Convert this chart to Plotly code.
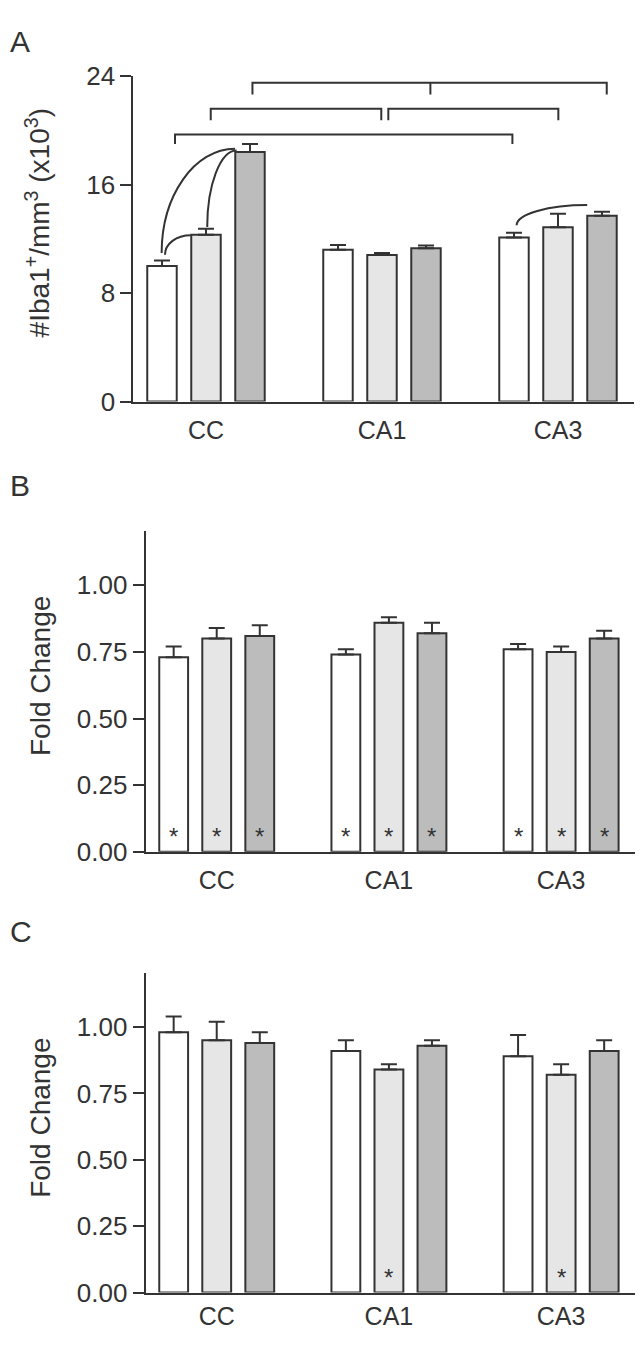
import plotly.graph_objects as go

# ---------------- data ----------------
categories = ["CC", "CA1", "CA3"]

# Panel A: #Iba1+/mm3 (x10^3)
a_white = [10.0, 11.2, 12.1]
a_white_err = [0.4, 0.35, 0.35]
a_light = [12.3, 10.8, 12.85]
a_light_err = [0.45, 0.15, 1.0]
a_dark = [18.4, 11.3, 13.7]
a_dark_err = [0.6, 0.2, 0.3]

# Panel B: fold change
b_white = [0.73, 0.74, 0.76]
b_white_err = [0.04, 0.02, 0.02]
b_light = [0.80, 0.86, 0.75]
b_light_err = [0.04, 0.02, 0.02]
b_dark = [0.81, 0.82, 0.80]
b_dark_err = [0.04, 0.04, 0.03]

# Panel C: fold change
c_white = [0.98, 0.91, 0.89]
c_white_err = [0.06, 0.04, 0.08]
c_light = [0.95, 0.84, 0.82]
c_light_err = [0.07, 0.02, 0.04]
c_dark = [0.94, 0.93, 0.91]
c_dark_err = [0.04, 0.02, 0.04]

a_ticks = [0, 8, 16, 24]
fc_ticks = [0.0, 0.25, 0.5, 0.75, 1.0]
fc_ticktext = ["0.00", "0.25", "0.50", "0.75", "1.00"]

# significance asterisks: (group index, series index)
b_stars = [(g, s) for g in range(3) for s in range(3)]
c_stars = [(1, 1), (2, 1)]

# ---------------- style ----------------
PAGE_W, PAGE_H = 643, 1351
BODY = 8                     # default html body margin
W, H = PAGE_W - 2 * BODY, PAGE_H - 2 * BODY
FONT = "Liberation Sans, Arial, Helvetica, sans-serif"
INK = "#333333"
FILLS = ["#ffffff", "#e6e6e6", "#bcbcbc"]
STEP = 0.25          # distance between bar centres inside a group


def fx(px):
    return min(1.0, max(0.0, (px - BODY) / W))


def fy(px):
    return min(1.0, max(0.0, 1 - (px - BODY) / H))


fig = go.Figure()


def add_panel(values, errs, xa, ya):
    for s, (v, e) in enumerate(zip(values, errs)):
        fig.add_trace(go.Bar(
            x=list(range(len(categories))), y=v,
            marker=dict(color=FILLS[s], line=dict(color=INK, width=2)),
            error_y=dict(type="data", array=e, arrayminus=[0] * len(e),
                         symmetric=False, color=INK, thickness=2, width=8),
            xaxis=xa, yaxis=ya, showlegend=False, hoverinfo="skip",
        ))


add_panel([a_white, a_light, a_dark], [a_white_err, a_light_err, a_dark_err], "x", "y")
add_panel([b_white, b_light, b_dark], [b_white_err, b_light_err, b_dark_err], "x2", "y2")
add_panel([c_white, c_light, c_dark], [c_white_err, c_light_err, c_dark_err], "x3", "y3")

axis_common = dict(showgrid=False, zeroline=False, showline=True,
                   linecolor=INK, linewidth=2, color=INK)


def xaxis(left, right, anchor, tl, scale):
    # axis range chosen so that category 0 sits at left + 0.413*scale
    lo = -0.413
    hi = lo + (min(right, BODY + W) - left) / scale
    d = dict(axis_common, range=[lo, hi], tickvals=[0, 1, 2], ticktext=categories,
             tickfont=dict(family=FONT, size=25, color=INK),
             domain=[fx(left), fx(right)], anchor=anchor)
    if tl > 0:
        d.update(ticks="outside", tickcolor="rgba(0,0,0,0)", ticklen=tl)
    else:
        d.update(ticks="")
    return d


ycommon = dict(axis_common, ticks="outside", ticklen=11, tickwidth=2, tickcolor=INK,
               tickfont=dict(family=FONT, size=26, color=INK))

fig.update_layout(
    width=W, height=H,
    margin=dict(l=0, r=0, t=0, b=0),
    paper_bgcolor="white", plot_bgcolor="white",
    barmode="group", bargap=0.25, bargroupgap=0.33,
    font=dict(family=FONT, color=INK),
    xaxis=xaxis(133.3, 633.6, "y", 5, 176.0),
    yaxis=dict(ycommon, domain=[fy(395.3), fy(62.3)], anchor="x",
               range=[0, 24], tickvals=a_ticks),
    xaxis2=xaxis(145.6, 635.6, "y2", 5, 172.2),
    yaxis2=dict(ycommon, domain=[fy(855.7), fy(528)], anchor="x2",
                range=[0, 1.203], tickvals=fc_ticks, ticktext=fc_ticktext),
    xaxis3=xaxis(145.6, 635.6, "y3", 0, 172.2),
    yaxis3=dict(ycommon, domain=[fy(1306.7), fy(980)], anchor="x3",
                range=[0, 1.203], tickvals=fc_ticks, ticktext=fc_ticktext),
)

# ---------------- annotations ----------------
ann = []
# panel letters
for letter, py in [("A", 8), ("B", 462), ("C", 918)]:
    ann.append(dict(text=letter, x=0, y=fy(py), xref="paper", yref="paper",
                    xanchor="left", yanchor="top", showarrow=False,
                    font=dict(family=FONT, size=30, color=INK)))
# y titles
ann.append(dict(text="#Iba1<sup>+</sup>/mm<sup>3</sup> (x10<sup>3</sup>)",
                x=fx(38), y=fy(213), xref="paper", yref="paper",
                xanchor="center", yanchor="middle", textangle=-90, showarrow=False,
                font=dict(family=FONT, size=28, color=INK)))
for py in [676, 1128]:
    ann.append(dict(text="Fold Change", x=fx(41), y=fy(py), xref="paper", yref="paper",
                    xanchor="center", yanchor="middle", textangle=-90, showarrow=False,
                    font=dict(family=FONT, size=28, color=INK)))
# asterisks
for stars, xa, ya in [(b_stars, "x2", "y2"), (c_stars, "x3", "y3")]:
    for g, s in stars:
        ann.append(dict(text="*", x=g + (s - 1) * STEP, y=0, xref=xa, yref=ya,
                        xanchor="center", yanchor="bottom", yshift=0, showarrow=False,
                        font=dict(family=FONT, size=24, color=INK)))
fig.update_layout(annotations=ann)

# ---------------- brackets & arcs (panel A) ----------------
shapes = []
line = dict(color=INK, width=2)
# (left x, right x, bar y, leg bottom y, optional middle leg x)
brackets = [
    (-0.176, 1.741, 19.7, 19.0, None),
    (0.027, 0.996, 21.6, 20.75, None),
    (1.036, 2.002, 21.6, 20.75, None),
    (0.264, 2.277, 23.5, 22.65, 1.275),
]
for x0, x1, yb, yl, xm in brackets:
    path = f"M {x0},{yl} L {x0},{yb} L {x1},{yb} L {x1},{yl}"
    if xm is not None:
        path += f" M {xm},{yb} L {xm},{yl}"
    shapes.append(dict(type="path", path=path, xref="x", yref="y", line=line))

# arcs: start (x0,y0) going up vertically, end (x1,y1) horizontally
arcs = [
    (-0.252, 10.95, 0.165, 18.64),
    (0.007, 12.87, 0.174, 18.52),
    (-0.233, 10.83, -0.087, 12.27),
    (1.765, 13.0, 2.166, 14.49),
]
k = 0.5523
for x0, y0, x1, y1 in arcs:
    path = (f"M {x0},{y0} C {x0},{y0 + k * (y1 - y0)} "
            f"{x1 - k * (x1 - x0)},{y1} {x1},{y1}")
    shapes.append(dict(type="path", path=path, xref="x", yref="y", line=line))

fig.update_layout(shapes=shapes)

fig.write_html("out.html")
